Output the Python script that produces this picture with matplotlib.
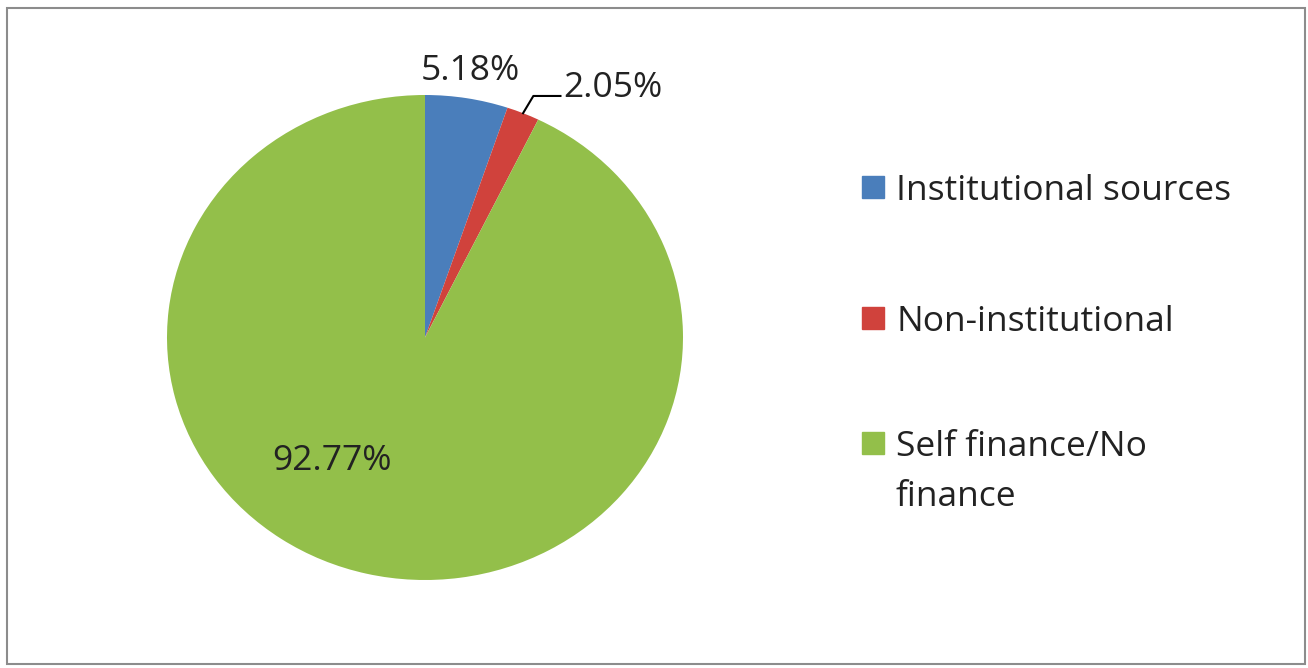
import numpy as np
import matplotlib.pyplot as plt
from matplotlib.patches import Rectangle

# data
labels = ['Institutional sources', 'Non-institutional', 'Self finance/No\nfinance']
shares = [5.18, 2.05, 92.77]
colors = ['#4a7ebb', '#d0423c', '#93bf4a']

W, H = 1308, 668
fig = plt.figure(figsize=(W / 100, H / 100), dpi=100)
plt.rcParams['font.family'] = ['Open Sans', 'DejaVu Sans']

# pie box in pixels (slightly squashed like the source picture)
x0, x1, y0, y1 = 167, 683, 95, 580
ax = fig.add_axes([x0 / W, 1 - y1 / H, (x1 - x0) / W, (y1 - y0) / H])
wedges, _ = ax.pie(shares, colors=colors, startangle=90, counterclock=False,
                   wedgeprops=dict(linewidth=0))
ax.set_aspect('auto')
ax.set_xlim(-1, 1)
ax.set_ylim(-1, 1)
ax.axis('off')

# percentage labels
txt = ['%.2f%%' % s for s in shares]
fs = 25.5
ax.text(0.175, 1.10, txt[0], ha='center', va='center', fontsize=fs, color='#222222')
ax.text(0.535, 1.03, txt[1], ha='left', va='center', fontsize=fs, color='#222222')
ax.text(-0.36, -0.51, txt[2], ha='center', va='center', fontsize=fs, color='#222222')

# leader line for the small red slice
mid = np.deg2rad(90 - 360 * (shares[0] + shares[1] / 2) / 100)
ex, ey = np.cos(mid), np.sin(mid)
ax.plot([ex, 0.42, 0.525], [ey, 0.996, 0.996],
        color='black', lw=1.5, clip_on=False)

# legend drawn by hand so the wrapped label lines up like the original
leg_y = [187, 318, 443]
for lab, col, yy in zip(labels, colors, leg_y):
    fig.patches.append(Rectangle((862 / W, 1 - (yy + 11) / H), 22 / W, 22 / H,
                                 transform=fig.transFigure, color=col))
    for i, line in enumerate(lab.split('\n')):
        fig.text(896 / W, 1 - (yy + 13 + 50 * i) / H, line, ha='left',
                 va='baseline', fontsize=fs, color='#222222')

# grey frame round the chart
fig.patches.append(Rectangle((7 / W, 1 - 664 / H), 1298 / W, 656 / H,
                             transform=fig.transFigure, fill=False,
                             edgecolor='#8c8c8c', lw=1.5))

plt.savefig('out.png', dpi=100)
